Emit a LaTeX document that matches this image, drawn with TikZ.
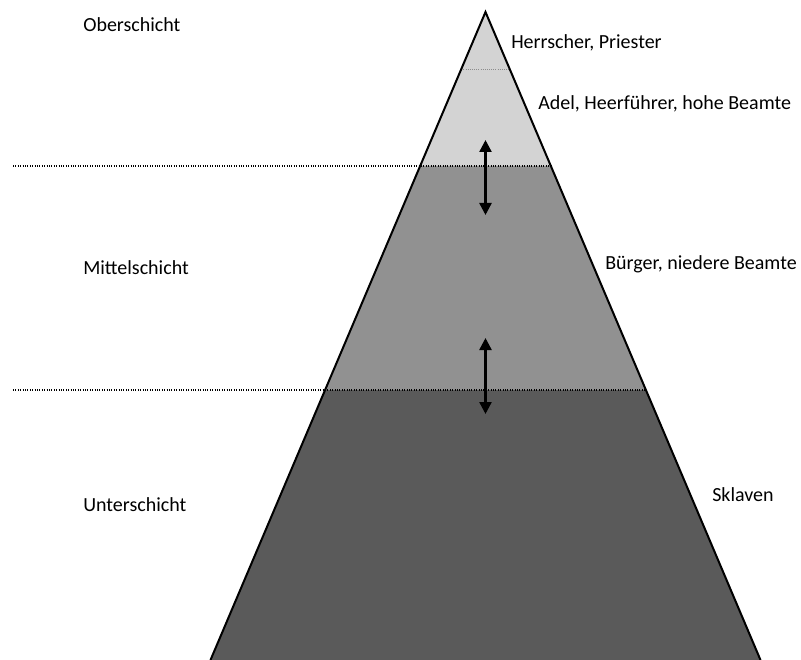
\documentclass[tikz,border=0pt]{standalone}
\usepackage{fontspec}
\setmainfont{Carlito}
\usetikzlibrary{arrows.meta}
\definecolor{topgray}{HTML}{D3D3D3}
\definecolor{midgray}{HTML}{919191}
\definecolor{lowgray}{HTML}{5A5A5A}
\tikzset{
  lbl/.style={anchor=west, inner sep=0pt, font=\fontsize{15}{18}\selectfont},
  sep/.style={densely dotted, line width=0.8pt, black},
  inner sep line/.style={densely dotted, line width=0.6pt, black!45},
  move/.style={{Triangle[length=9pt,width=9pt]}-{Triangle[length=9pt,width=9pt]}, line width=1.8pt},
  outline/.style={line width=1.5pt, line join=miter}
}
\begin{document}
\begin{tikzpicture}[x=0.75pt, y=-0.75pt]
\useasboundingbox (0,0) rectangle (801,660);
% pyramid corners
\coordinate (apex) at (485.5,12);
\coordinate (bl) at (210.5,660);
\coordinate (br) at (760.5,660);
\coordinate (l69) at (461.3,69);  \coordinate (r69) at (509.7,69);
\coordinate (l166) at (420.1,166); \coordinate (r166) at (550.9,166);
\coordinate (l390) at (325.1,390); \coordinate (r390) at (645.9,390);
% fills
\fill[topgray] (apex) -- (r166) -- (l166) -- cycle;
\fill[midgray] (l166) -- (r166) -- (r390) -- (l390) -- cycle;
\fill[lowgray] (l390) -- (r390) -- (br) -- (bl) -- cycle;
% separators
\coordinate (s166) at (13,166);
\coordinate (s390) at (13,390);
\draw[sep] (s166) -- (r166);
\draw[sep] (s390) -- (r390);
\draw[inner sep line] (l69) -- (r69);
% outline
\draw[outline] (bl) -- (apex) -- (br);
% arrows
\coordinate (a1t) at (485.5,140);
\coordinate (a1b) at (485.5,215);
\coordinate (a2t) at (485.5,338);
\coordinate (a2b) at (485.5,414);
\draw[move] (a1t) -- (a1b);
\draw[move] (a2t) -- (a2b);
% labels
\node[lbl] (ober) at (83,25) {Oberschicht};
\node[lbl] (mittel) at (83,268) {Mittelschicht};
\node[lbl] (unter) at (83,505) {Unterschicht};
\node[lbl] (herr) at (511,43) {Herrscher, Priester};
\node[lbl] (adel) at (538,104) {Adel, Heerführer, hohe Beamte};
\node[lbl] (buerger) at (605,264) {Bürger, niedere Beamte};
\node[lbl] (sklaven) at (712,495) {Sklaven};
\end{tikzpicture}
\end{document}
